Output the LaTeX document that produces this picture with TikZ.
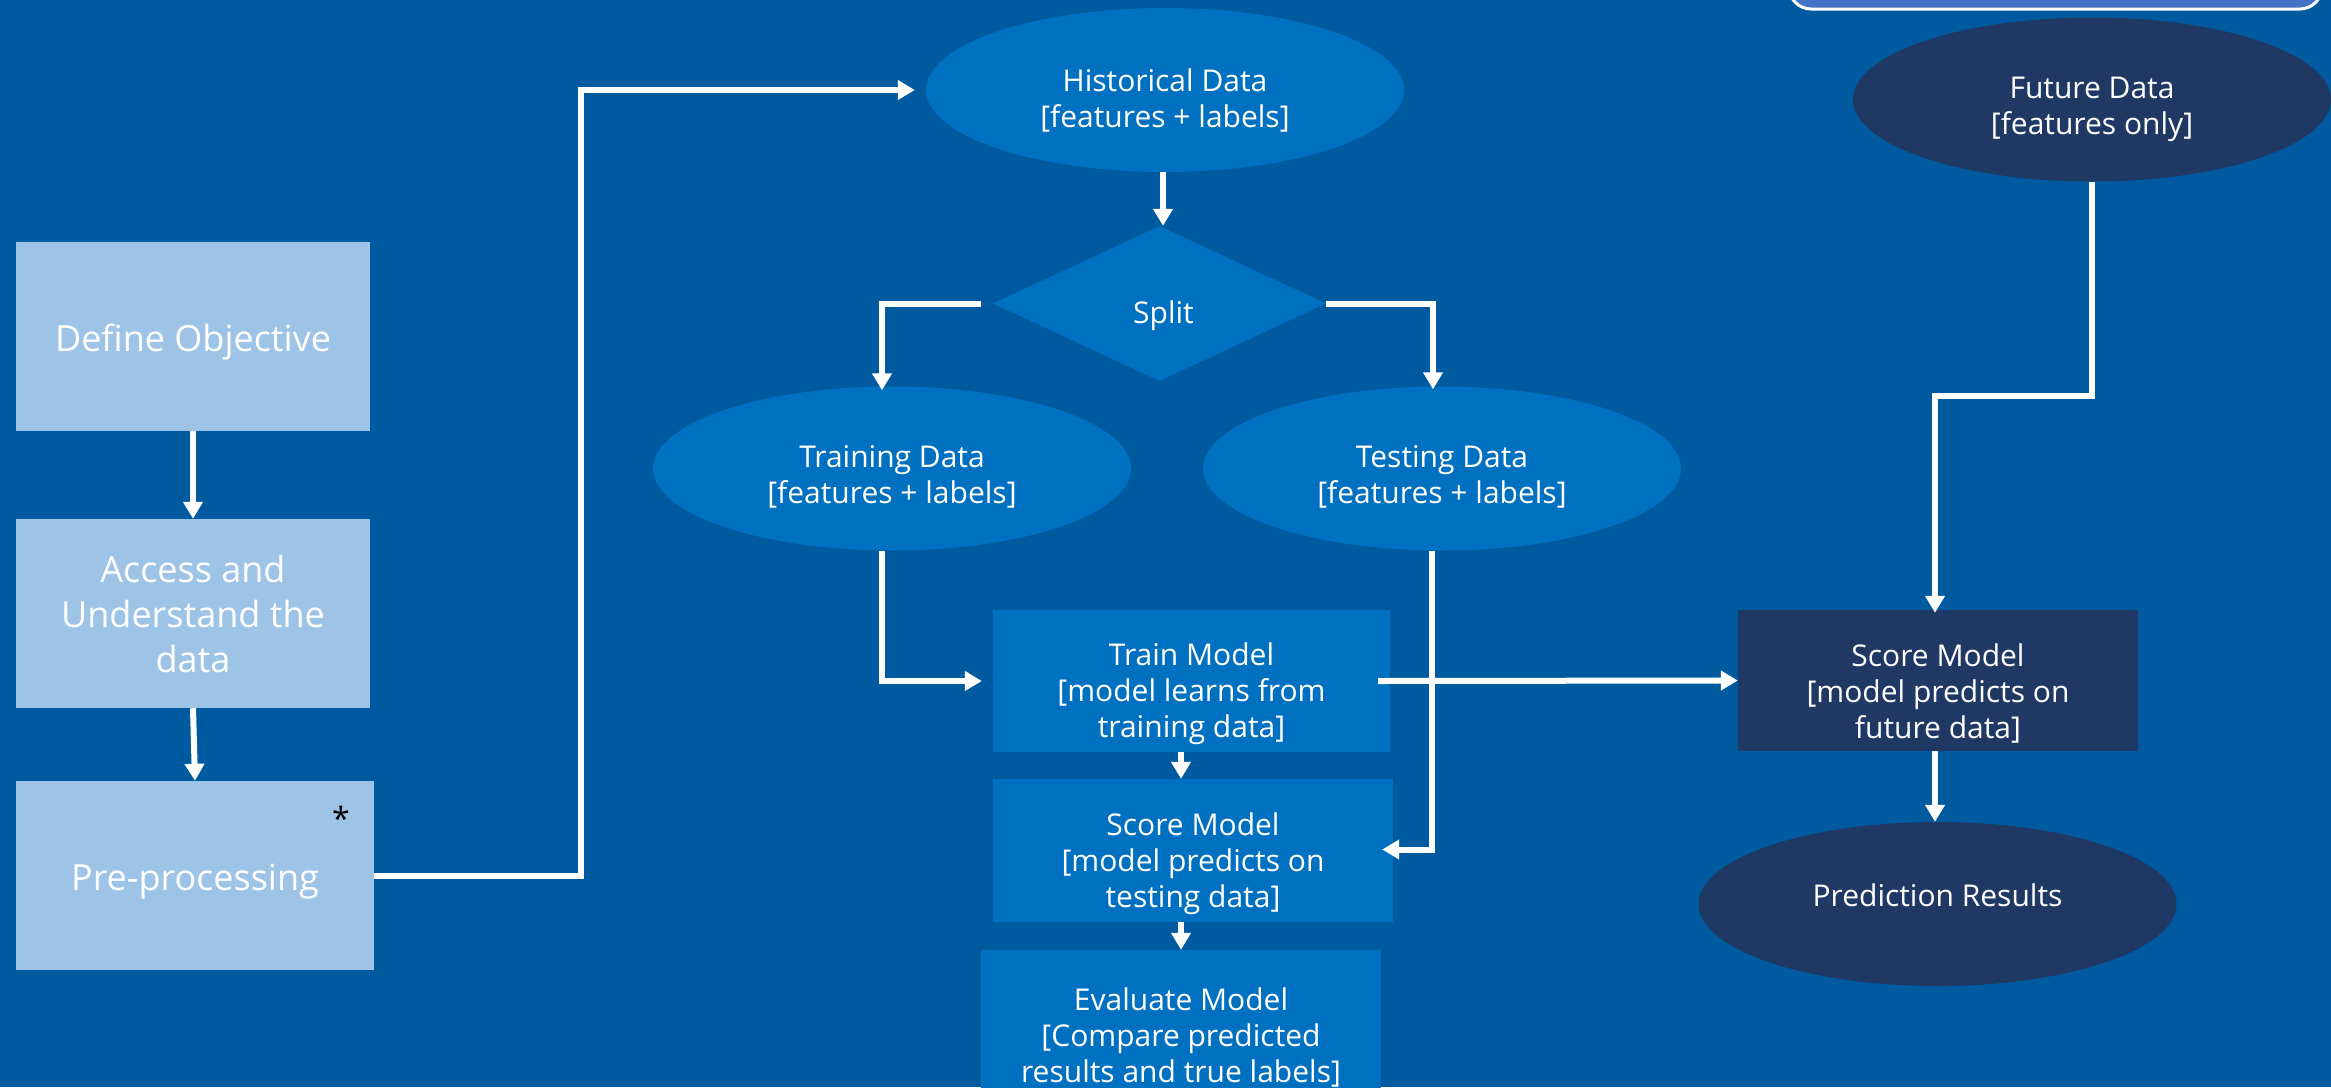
\documentclass[tikz,border=0pt]{standalone}
\usepackage{fontspec}
\setmainfont{Open Sans}
\usetikzlibrary{shapes.geometric,arrows.meta}
\definecolor{bgc}{RGB}{0,90,160}
\definecolor{midc}{RGB}{0,112,192}
\definecolor{navyc}{RGB}{32,56,100}
\definecolor{lightc}{RGB}{157,195,230}
\definecolor{topc}{RGB}{68,114,196}
\tikzset{
  bigtext/.style={font=\fontsize{36}{45}\selectfont, text=white, align=center, inner sep=0pt},
  smalltext/.style={font=\fontsize{30}{36}\selectfont, text=white, align=center, inner sep=0pt},
  lightbox/.style={rectangle, fill=lightc, inner sep=0pt},
  midbox/.style={rectangle, fill=midc, inner sep=0pt},
  navybox/.style={rectangle, fill=navyc, inner sep=0pt},
  midell/.style={ellipse, fill=midc, inner sep=0pt, minimum width=478pt, minimum height=164pt},
  navyell/.style={ellipse, fill=navyc, inner sep=0pt, minimum width=478pt, minimum height=164pt},
  conn/.style={draw=white, line width=6pt, -{Triangle[length=17pt,width=19pt]}},
}
\begin{document}
\begin{tikzpicture}[x=1pt,y=-1pt]
\useasboundingbox (0,0) rectangle (2331,1087);
\fill[bgc] (0,0) rectangle (2331,1087);
% partial top box
\draw[fill=topc, draw=white, line width=3pt, rounded corners=22pt] (1789,-60) rectangle (2322,9);

% left column
\node[lightbox, minimum width=354pt, minimum height=189pt] (define) at (193,336.5) {};
\node[bigtext] (define-t) at ([yshift=-6pt]define.center) {Define Objective};
\node[lightbox, minimum width=354pt, minimum height=189pt] (access) at (193,613.5) {};
\node[bigtext] (access-t) at (access.center) {Access and\\Understand the\\data};
\node[lightbox, minimum width=358pt, minimum height=189pt] (pre) at (195,875.5) {};
\node[bigtext] (pre-t) at ([yshift=-6pt]pre.center) {Pre-processing};
\node[font=\fontsize{32}{36}\selectfont, text=black, inner sep=0pt] (star) at (341,818) {*};

% middle
\node[midell] (hist) at (1165,90) {};
\node[smalltext] (hist-t) at ([yshift=-10pt]hist.center) {Historical Data\\{}[features + labels]};
\node[diamond, fill=midc, inner sep=0pt, aspect=2.15, minimum width=333pt, minimum height=155pt] (split) at (1159.5,303.5) {};
\node[smalltext] (split-t) at ([xshift=4pt,yshift=-12pt]split.center) {Split};
\node[midell] (traindata) at (892,468.5) {};
\node[smalltext] (traindata-t) at ([yshift=-8pt]traindata.center) {Training Data\\{}[features + labels]};
\node[midell] (testdata) at (1442,468.5) {};
\node[smalltext] (testdata-t) at ([yshift=-8pt]testdata.center) {Testing Data\\{}[features + labels]};
\node[midbox, minimum width=397pt, minimum height=142pt] (trainm) at (1191.5,681) {};
\node[smalltext] (trainm-t) at ([yshift=-13pt]trainm.center) {Train Model\\{}[model learns from\\training data]};
\node[midbox, minimum width=400pt, minimum height=143pt] (scoret) at (1193,850.5) {};
\node[smalltext] (scoret-t) at ([yshift=-13pt]scoret.center) {Score Model\\{}[model predicts on\\testing data]};
\node[midbox, minimum width=400pt, minimum height=166pt] (evalm) at (1181,1033) {};
\node[smalltext] (evalm-t) at ([yshift=-4pt]evalm.center) {Evaluate Model\\{}[Compare predicted\\results and true labels]};

% right
\node[navyell] (future) at (2092,99.5) {};
\node[smalltext] (future-t) at ([yshift=-10pt]future.center) {Future Data\\{}[features only]};
\node[navybox, minimum width=400pt, minimum height=141pt] (scoref) at (1938,680.5) {};
\node[smalltext] (scoref-t) at ([yshift=-13pt]scoref.center) {Score Model\\{}[model predicts on\\future data]};
\node[navyell] (pred) at (1937.5,904) {};
\node[smalltext] (pred-t) at ([yshift=9pt]pred.center) {Prediction Results};

% connectors
\draw[conn] (define.south) -- (access.north);
\draw[conn] (access.south) -- (pre.north);
\draw[conn] (pre.east) -- ++(207,0) |- ([xshift=-11pt]hist.west);
\draw[conn] ([xshift=-2pt]hist.south) -- ([xshift=-2pt]hist.south |- split.north);
\draw[conn] ([xshift=-12pt]split.west) -| ([xshift=-10pt,yshift=-4pt]traindata.north);
\draw[conn] (split.east) -| ([xshift=-9pt,yshift=-3pt]testdata.north);
\draw[conn] ([xshift=-10pt]traindata.south) |- ([xshift=-11pt]trainm.west);
\draw[conn] ([xshift=-10pt]testdata.south) |- ([xshift=-11pt,yshift=1pt]scoret.east);
\draw[conn] ([xshift=-12pt]trainm.east) -- (scoref.west);
\draw[conn] (trainm.south -| evalm.north) -- (scoret.north -| evalm.north);
\draw[conn] (scoret.south -| evalm.north) -- (evalm.north);
\draw[conn] (future.south) -- ++(0,214) -| ([xshift=-3pt,yshift=-3pt]scoref.north);
\draw[conn] ([xshift=-3pt]scoref.south) -- ([xshift=-3pt]scoref.south |- pred.north);
\end{tikzpicture}
\end{document}
